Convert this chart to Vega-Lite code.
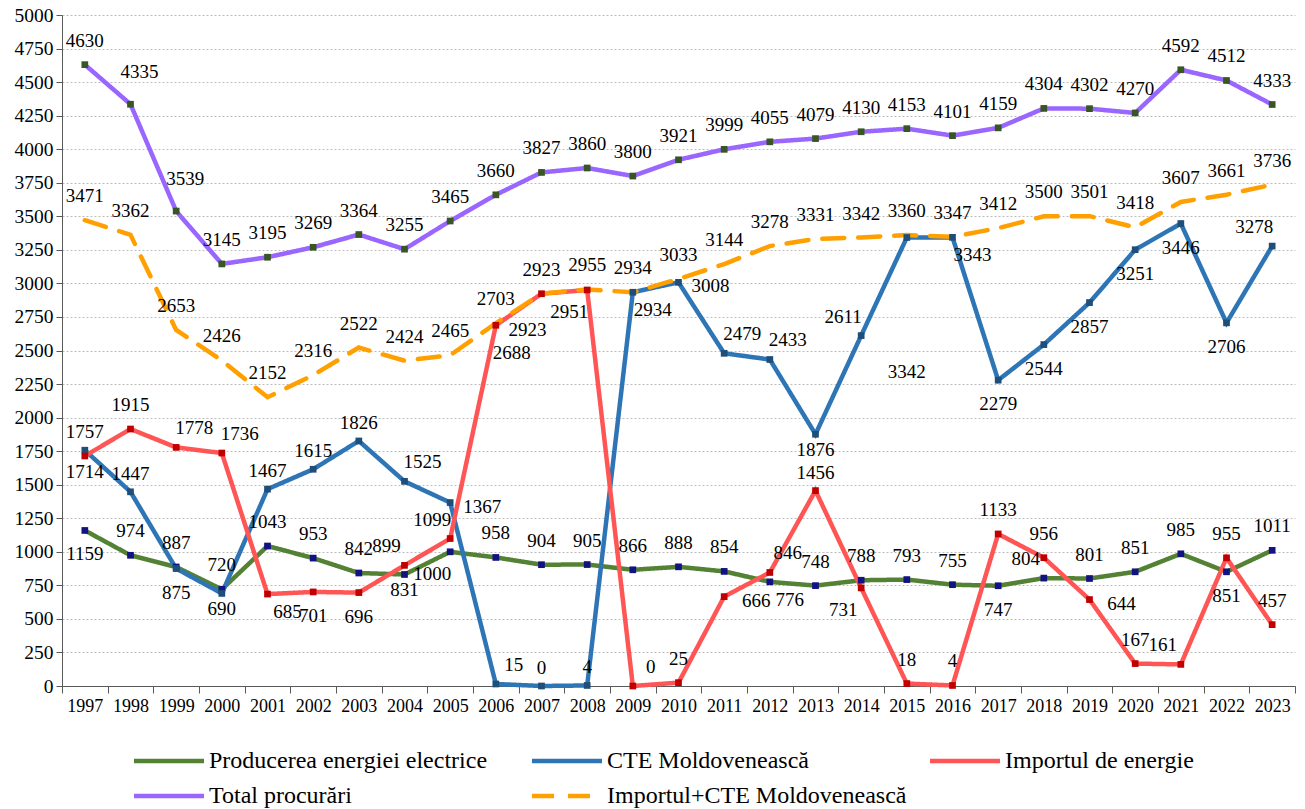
{
  "$schema": "https://vega.github.io/schema/vega-lite/v6.json",
  "width": 1233,
  "height": 671,
  "autosize": "none",
  "padding": {"left": 62, "top": 15, "right": 10, "bottom": 123},
  "background": "white",
  "config": {"view": {"stroke": null}, "font": "Liberation Serif"},
  "datasets": {
    "d": [
      {"year":1997,"series":"Producerea energiei electrice","value":1159},
      {"year":1998,"series":"Producerea energiei electrice","value":974},
      {"year":1999,"series":"Producerea energiei electrice","value":887},
      {"year":2000,"series":"Producerea energiei electrice","value":720},
      {"year":2001,"series":"Producerea energiei electrice","value":1043},
      {"year":2002,"series":"Producerea energiei electrice","value":953},
      {"year":2003,"series":"Producerea energiei electrice","value":842},
      {"year":2004,"series":"Producerea energiei electrice","value":831},
      {"year":2005,"series":"Producerea energiei electrice","value":1000},
      {"year":2006,"series":"Producerea energiei electrice","value":958},
      {"year":2007,"series":"Producerea energiei electrice","value":904},
      {"year":2008,"series":"Producerea energiei electrice","value":905},
      {"year":2009,"series":"Producerea energiei electrice","value":866},
      {"year":2010,"series":"Producerea energiei electrice","value":888},
      {"year":2011,"series":"Producerea energiei electrice","value":854},
      {"year":2012,"series":"Producerea energiei electrice","value":776},
      {"year":2013,"series":"Producerea energiei electrice","value":748},
      {"year":2014,"series":"Producerea energiei electrice","value":788},
      {"year":2015,"series":"Producerea energiei electrice","value":793},
      {"year":2016,"series":"Producerea energiei electrice","value":755},
      {"year":2017,"series":"Producerea energiei electrice","value":747},
      {"year":2018,"series":"Producerea energiei electrice","value":804},
      {"year":2019,"series":"Producerea energiei electrice","value":801},
      {"year":2020,"series":"Producerea energiei electrice","value":851},
      {"year":2021,"series":"Producerea energiei electrice","value":985},
      {"year":2022,"series":"Producerea energiei electrice","value":851},
      {"year":2023,"series":"Producerea energiei electrice","value":1011},
      {"year":1997,"series":"CTE Moldovenească","value":1757},
      {"year":1998,"series":"CTE Moldovenească","value":1447},
      {"year":1999,"series":"CTE Moldovenească","value":875},
      {"year":2000,"series":"CTE Moldovenească","value":690},
      {"year":2001,"series":"CTE Moldovenească","value":1467},
      {"year":2002,"series":"CTE Moldovenească","value":1615},
      {"year":2003,"series":"CTE Moldovenească","value":1826},
      {"year":2004,"series":"CTE Moldovenească","value":1525},
      {"year":2005,"series":"CTE Moldovenească","value":1367},
      {"year":2006,"series":"CTE Moldovenească","value":15},
      {"year":2007,"series":"CTE Moldovenească","value":0},
      {"year":2008,"series":"CTE Moldovenească","value":4},
      {"year":2009,"series":"CTE Moldovenească","value":2934},
      {"year":2010,"series":"CTE Moldovenească","value":3008},
      {"year":2011,"series":"CTE Moldovenească","value":2479},
      {"year":2012,"series":"CTE Moldovenească","value":2433},
      {"year":2013,"series":"CTE Moldovenească","value":1876},
      {"year":2014,"series":"CTE Moldovenească","value":2611},
      {"year":2015,"series":"CTE Moldovenească","value":3342},
      {"year":2016,"series":"CTE Moldovenească","value":3343},
      {"year":2017,"series":"CTE Moldovenească","value":2279},
      {"year":2018,"series":"CTE Moldovenească","value":2544},
      {"year":2019,"series":"CTE Moldovenească","value":2857},
      {"year":2020,"series":"CTE Moldovenească","value":3251},
      {"year":2021,"series":"CTE Moldovenească","value":3446},
      {"year":2022,"series":"CTE Moldovenească","value":2706},
      {"year":2023,"series":"CTE Moldovenească","value":3278},
      {"year":1997,"series":"Importul de energie","value":1714},
      {"year":1998,"series":"Importul de energie","value":1915},
      {"year":1999,"series":"Importul de energie","value":1778},
      {"year":2000,"series":"Importul de energie","value":1736},
      {"year":2001,"series":"Importul de energie","value":685},
      {"year":2002,"series":"Importul de energie","value":701},
      {"year":2003,"series":"Importul de energie","value":696},
      {"year":2004,"series":"Importul de energie","value":899},
      {"year":2005,"series":"Importul de energie","value":1099},
      {"year":2006,"series":"Importul de energie","value":2688},
      {"year":2007,"series":"Importul de energie","value":2923},
      {"year":2008,"series":"Importul de energie","value":2951},
      {"year":2009,"series":"Importul de energie","value":0},
      {"year":2010,"series":"Importul de energie","value":25},
      {"year":2011,"series":"Importul de energie","value":666},
      {"year":2012,"series":"Importul de energie","value":846},
      {"year":2013,"series":"Importul de energie","value":1456},
      {"year":2014,"series":"Importul de energie","value":731},
      {"year":2015,"series":"Importul de energie","value":18},
      {"year":2016,"series":"Importul de energie","value":4},
      {"year":2017,"series":"Importul de energie","value":1133},
      {"year":2018,"series":"Importul de energie","value":956},
      {"year":2019,"series":"Importul de energie","value":644},
      {"year":2020,"series":"Importul de energie","value":167},
      {"year":2021,"series":"Importul de energie","value":161},
      {"year":2022,"series":"Importul de energie","value":955},
      {"year":2023,"series":"Importul de energie","value":457},
      {"year":1997,"series":"Total procurări","value":4630},
      {"year":1998,"series":"Total procurări","value":4335},
      {"year":1999,"series":"Total procurări","value":3539},
      {"year":2000,"series":"Total procurări","value":3145},
      {"year":2001,"series":"Total procurări","value":3195},
      {"year":2002,"series":"Total procurări","value":3269},
      {"year":2003,"series":"Total procurări","value":3364},
      {"year":2004,"series":"Total procurări","value":3255},
      {"year":2005,"series":"Total procurări","value":3465},
      {"year":2006,"series":"Total procurări","value":3660},
      {"year":2007,"series":"Total procurări","value":3827},
      {"year":2008,"series":"Total procurări","value":3860},
      {"year":2009,"series":"Total procurări","value":3800},
      {"year":2010,"series":"Total procurări","value":3921},
      {"year":2011,"series":"Total procurări","value":3999},
      {"year":2012,"series":"Total procurări","value":4055},
      {"year":2013,"series":"Total procurări","value":4079},
      {"year":2014,"series":"Total procurări","value":4130},
      {"year":2015,"series":"Total procurări","value":4153},
      {"year":2016,"series":"Total procurări","value":4101},
      {"year":2017,"series":"Total procurări","value":4159},
      {"year":2018,"series":"Total procurări","value":4304},
      {"year":2019,"series":"Total procurări","value":4302},
      {"year":2020,"series":"Total procurări","value":4270},
      {"year":2021,"series":"Total procurări","value":4592},
      {"year":2022,"series":"Total procurări","value":4512},
      {"year":2023,"series":"Total procurări","value":4333},
      {"year":1997,"series":"Importul+CTE Moldovenească","value":3471},
      {"year":1998,"series":"Importul+CTE Moldovenească","value":3362},
      {"year":1999,"series":"Importul+CTE Moldovenească","value":2653},
      {"year":2000,"series":"Importul+CTE Moldovenească","value":2426},
      {"year":2001,"series":"Importul+CTE Moldovenească","value":2152},
      {"year":2002,"series":"Importul+CTE Moldovenească","value":2316},
      {"year":2003,"series":"Importul+CTE Moldovenească","value":2522},
      {"year":2004,"series":"Importul+CTE Moldovenească","value":2424},
      {"year":2005,"series":"Importul+CTE Moldovenească","value":2465},
      {"year":2006,"series":"Importul+CTE Moldovenească","value":2703},
      {"year":2007,"series":"Importul+CTE Moldovenească","value":2923},
      {"year":2008,"series":"Importul+CTE Moldovenească","value":2955},
      {"year":2009,"series":"Importul+CTE Moldovenească","value":2934},
      {"year":2010,"series":"Importul+CTE Moldovenească","value":3033},
      {"year":2011,"series":"Importul+CTE Moldovenească","value":3144},
      {"year":2012,"series":"Importul+CTE Moldovenească","value":3278},
      {"year":2013,"series":"Importul+CTE Moldovenească","value":3331},
      {"year":2014,"series":"Importul+CTE Moldovenească","value":3342},
      {"year":2015,"series":"Importul+CTE Moldovenească","value":3360},
      {"year":2016,"series":"Importul+CTE Moldovenească","value":3347},
      {"year":2017,"series":"Importul+CTE Moldovenească","value":3412},
      {"year":2018,"series":"Importul+CTE Moldovenească","value":3500},
      {"year":2019,"series":"Importul+CTE Moldovenească","value":3501},
      {"year":2020,"series":"Importul+CTE Moldovenească","value":3418},
      {"year":2021,"series":"Importul+CTE Moldovenească","value":3607},
      {"year":2022,"series":"Importul+CTE Moldovenească","value":3661},
      {"year":2023,"series":"Importul+CTE Moldovenească","value":3736}
    ]
  },
  "data": {"name": "d"},
  "encoding": {
    "x": {
      "field": "year", "type": "ordinal", "bandPosition": 0.5,
      "scale": {"type": "band", "paddingInner": 0, "paddingOuter": 0},
      "axis": {"title": null, "labelAngle": 0, "tickBand": "extent", "grid": false, "domainColor": "#595959", "tickColor": "#595959", "tickSize": 7, "labelFontSize": 18, "labelColor": "black", "labelPadding": 4, "labelFont": "Liberation Serif"}
    },
    "y": {
      "field": "value", "type": "quantitative",
      "scale": {"domain": [0, 5000], "nice": false},
      "axis": {"title": null, "values": [0,250,500,750,1000,1250,1500,1750,2000,2250,2500,2750,3000,3250,3500,3750,4000,4250,4500,4750,5000], "format": "d", "grid": true, "gridDash": [2, 2], "gridColor": "#bdbdbd", "domainColor": "#595959", "tickColor": "#595959", "tickSize": 6, "labelFontSize": 19.5, "labelColor": "black", "labelPadding": 3, "labelFont": "Liberation Serif"}
    }
  },
  "layer": [
    {
      "mark": {"type": "line", "strokeWidth": 4.5, "strokeCap": "round"},
      "encoding": {
        "color": {
          "field": "series", "type": "nominal",
          "scale": {"domain": ["Producerea energiei electrice", "CTE Moldovenească", "Importul de energie", "Total procurări", "Importul+CTE Moldovenească"], "range": ["#548235", "#2e75b6", "#ff5555", "#9966ff", "#ffa000"]},
          "legend": {"title": null, "orient": "none", "direction": "horizontal", "legendX": 70, "legendY": 734, "columns": 3, "gridAlign": "all", "columnPadding": 14, "rowPadding": 11, "symbolType": "M-7,0H7", "symbolSize": 100, "symbolOffset": 25, "symbolStrokeWidth": 4.5, "labelFontSize": 24, "labelFont": "Liberation Serif", "labelColor": "black", "labelOffset": 28, "padding": 0, "labelLimit": 500}
        },
        "strokeDash": {
          "field": "series", "type": "nominal",
          "scale": {"domain": ["Producerea energiei electrice", "CTE Moldovenească", "Importul de energie", "Total procurări", "Importul+CTE Moldovenească"], "range": [[1, 0], [1, 0], [1, 0], [1, 0], [22, 14]]}
        }
      }
    },
    {
      "transform": [{"filter": "datum.series !== 'Importul+CTE Moldovenească'"}],
      "mark": {"type": "point", "shape": "square", "filled": true, "size": 45, "opacity": 1},
      "encoding": {
        "fill": {"field": "series", "type": "nominal", "legend": null,
          "scale": {"domain": ["Producerea energiei electrice", "CTE Moldovenească", "Importul de energie", "Total procurări"], "range": ["#121282", "#1f4e79", "#c00000", "#375623"]}}
      }
    },
    {
      "transform": [{"filter": "(datum.series === 'Total procurări' && indexof([1998,1999], datum.year) < 0) || datum.series === 'Importul+CTE Moldovenească' || (datum.series === 'Producerea energiei electrice' && indexof([1998,1999,2000,2001,2002,2003,2006,2007,2008,2009,2010,2011,2013,2014,2015,2016,2019,2020,2021,2023], datum.year) >= 0) || (datum.series === 'Importul de energie' && indexof([1998,2010,2015,2016,2017,2018,2020,2022,2023], datum.year) >= 0)"}],
      "mark": {"type": "text", "dy": -24, "fontSize": 19, "font": "Liberation Serif", "baseline": "middle", "color": "black"},
      "encoding": {"text": {"field": "value", "type": "quantitative", "format": "d"}}
    },
    {
      "transform": [{"filter": "datum.series === 'Total procurări' && indexof([1998,1999], datum.year) >= 0"}],
      "mark": {"type": "text", "dx": 9, "dy": -32, "fontSize": 19, "font": "Liberation Serif", "baseline": "middle", "color": "black"},
      "encoding": {"text": {"field": "value", "type": "quantitative", "format": "d"}}
    },
    {
      "transform": [{"filter": "(datum.series === 'CTE Moldovenească' && indexof([1997,1998,2001,2002,2003,2007,2008], datum.year) >= 0) || (datum.series === 'Importul de energie' && datum.year === 2013)"}],
      "mark": {"type": "text", "dy": -18, "fontSize": 19, "font": "Liberation Serif", "baseline": "middle", "color": "black"},
      "encoding": {"text": {"field": "value", "type": "quantitative", "format": "d"}}
    },
    {
      "transform": [{"filter": "(datum.series === 'Producerea energiei electrice' && indexof([1997,2017,2022], datum.year) >= 0) || (datum.series === 'CTE Moldovenească' && indexof([1999,2017,2018,2019,2020,2021,2022], datum.year) >= 0) || (datum.series === 'Importul de energie' && indexof([2002,2003], datum.year) >= 0)"}],
      "mark": {"type": "text", "dy": 24, "fontSize": 19, "font": "Liberation Serif", "baseline": "middle", "color": "black"},
      "encoding": {"text": {"field": "value", "type": "quantitative", "format": "d"}}
    },
    {
      "transform": [{"filter": "(datum.series === 'Producerea energiei electrice' && datum.year === 2004) || (datum.series === 'CTE Moldovenească' && indexof([2000,2013], datum.year) >= 0) || (datum.series === 'Importul de energie' && datum.year === 1997)"}],
      "mark": {"type": "text", "dy": 16, "fontSize": 19, "font": "Liberation Serif", "baseline": "middle", "color": "black"},
      "encoding": {"text": {"field": "value", "type": "quantitative", "format": "d"}}
    },
    {
      "transform": [{"filter": "(datum.series === 'CTE Moldovenească' && indexof([2004,2006,2011,2012], datum.year) >= 0) || (datum.series === 'Importul de energie' && indexof([1999,2000,2009,2012], datum.year) >= 0)"}],
      "mark": {"type": "text", "dx": 18, "dy": -19, "fontSize": 19, "font": "Liberation Serif", "baseline": "middle", "color": "black"},
      "encoding": {"text": {"field": "value", "type": "quantitative", "format": "d"}}
    },
    {
      "transform": [{"filter": "(datum.series === 'Producerea energiei electrice' && indexof([2018], datum.year) >= 0) || (datum.series === 'CTE Moldovenească' && indexof([2014,2023], datum.year) >= 0) || (datum.series === 'Importul de energie' && indexof([2004,2005,2021], datum.year) >= 0)"}],
      "mark": {"type": "text", "dx": -18, "dy": -19, "fontSize": 19, "font": "Liberation Serif", "baseline": "middle", "color": "black"},
      "encoding": {"text": {"field": "value", "type": "quantitative", "format": "d"}}
    },
    {
      "transform": [{"filter": "(datum.series === 'Producerea energiei electrice' && indexof([2012], datum.year) >= 0) || (datum.series === 'CTE Moldovenească' && indexof([2009,2016], datum.year) >= 0) || (datum.series === 'Importul de energie' && indexof([2001], datum.year) >= 0)"}],
      "mark": {"type": "text", "dx": 20, "dy": 18, "fontSize": 19, "font": "Liberation Serif", "baseline": "middle", "color": "black"},
      "encoding": {"text": {"field": "value", "type": "quantitative", "format": "d"}}
    },
    {
      "transform": [{"filter": "datum.series === 'Importul de energie' && datum.year === 2006"}],
      "mark": {"type": "text", "dx": 16, "dy": 28, "fontSize": 19, "font": "Liberation Serif", "baseline": "middle", "color": "black"},
      "encoding": {"text": {"field": "value", "type": "quantitative", "format": "d"}}
    },
    {
      "transform": [{"filter": "(datum.series === 'Producerea energiei electrice' && indexof([2005], datum.year) >= 0) || (datum.series === 'Importul de energie' && indexof([2008,2014], datum.year) >= 0)"}],
      "mark": {"type": "text", "dx": -18, "dy": 22, "fontSize": 19, "font": "Liberation Serif", "baseline": "middle", "color": "black"},
      "encoding": {"text": {"field": "value", "type": "quantitative", "format": "d"}}
    },
    {
      "transform": [{"filter": "datum.series === 'Importul de energie' && datum.year === 2007"}],
      "mark": {"type": "text", "dx": -14, "dy": 36, "fontSize": 19, "font": "Liberation Serif", "baseline": "middle", "color": "black"},
      "encoding": {"text": {"field": "value", "type": "quantitative", "format": "d"}}
    },
    {
      "transform": [{"filter": "(datum.series === 'CTE Moldovenească' && indexof([2005,2010], datum.year) >= 0) || (datum.series === 'Importul de energie' && indexof([2011,2019], datum.year) >= 0)"}],
      "mark": {"type": "text", "dx": 32, "dy": 4, "fontSize": 19, "font": "Liberation Serif", "baseline": "middle", "color": "black"},
      "encoding": {"text": {"field": "value", "type": "quantitative", "format": "d"}}
    },
    {
      "transform": [{"filter": "datum.series === 'CTE Moldovenească' && datum.year === 2015"}],
      "mark": {"type": "text", "dy": 134, "fontSize": 19, "font": "Liberation Serif", "baseline": "middle", "color": "black"},
      "encoding": {"text": {"field": "value", "type": "quantitative", "format": "d"}}
    }
  ]
}
